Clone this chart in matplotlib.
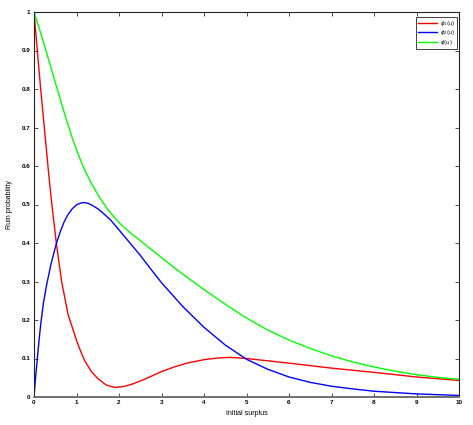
import matplotlib
matplotlib.use("Agg")
import matplotlib.pyplot as plt

# phi_1(u) (red)
u_red = [0, 0.078, 0.157, 0.243, 0.345, 0.42, 0.525, 0.65, 0.8, 1.0, 1.1, 1.19, 1.35,
         1.5, 1.7, 1.9, 2.1, 2.3, 2.6, 3.0, 3.3, 3.6, 4.0, 4.3, 4.6, 5.0, 5.5, 6, 7,
         8, 9, 10]
phi1 = [1.0, 0.9, 0.8, 0.7, 0.58, 0.5, 0.4, 0.3, 0.215, 0.147, 0.118, 0.095, 0.066,
        0.048, 0.031, 0.025, 0.027, 0.033, 0.046, 0.066, 0.078, 0.088, 0.097, 0.101,
        0.103, 0.100, 0.094, 0.088, 0.075, 0.064, 0.052, 0.043]

# phi_2(u) (blue)
u_blue = [0, 0.04, 0.078, 0.12, 0.157, 0.22, 0.3, 0.4, 0.525, 0.62, 0.71, 0.8, 0.9,
          1.0, 1.1, 1.18, 1.27, 1.35, 1.5, 1.6, 1.8, 2.0, 2.25, 2.5, 2.75, 3.0, 3.5,
          4.0, 4.5, 5.0, 5.5, 6, 6.5, 7, 7.5, 8, 9, 10]
phi2 = [0, 0.055, 0.1, 0.148, 0.188, 0.243, 0.293, 0.345, 0.398, 0.43, 0.455, 0.474,
        0.489, 0.499, 0.504, 0.505, 0.503, 0.499, 0.489, 0.48, 0.46, 0.434, 0.401,
        0.368, 0.332, 0.297, 0.235, 0.181, 0.135, 0.098, 0.072, 0.052, 0.038, 0.028,
        0.021, 0.015, 0.008, 0.004]

# phi(u) (green)
u_green = [0, 0.1, 0.2, 0.3, 0.4, 0.5, 0.6, 0.7, 0.8, 0.9, 1.0, 1.1, 1.2, 1.35, 1.55,
           1.75, 2.0, 2.25, 2.5, 3.0, 3.5, 4.0, 4.5, 5.0, 5.5, 6, 6.5, 7, 7.5, 8, 8.5,
           9, 9.5, 10]
phi = [1.0, 0.965, 0.93, 0.893, 0.855, 0.817, 0.78, 0.743, 0.707, 0.673, 0.642, 0.614,
       0.588, 0.555, 0.517, 0.485, 0.453, 0.428, 0.406, 0.362, 0.319, 0.279, 0.241,
       0.205, 0.174, 0.148, 0.126, 0.107, 0.091, 0.078, 0.067, 0.058, 0.051, 0.046]

x_ticks = list(range(0, 11))
y_ticks = [0, 0.1, 0.2, 0.3, 0.4, 0.5, 0.6, 0.7, 0.8, 0.9, 1]
y_tick_labels = ["0", "0.1", "0.2", "0.3", "0.4", "0.5", "0.6", "0.7", "0.8", "0.9", "1"]
labels = [r"$\phi_1(u)$", r"$\phi_2(u)$", r"$\phi(u)$"]

plt.rcParams['font.family'] = ['Liberation Sans', 'DejaVu Sans']

fig = plt.figure(figsize=(4.73, 4.25), dpi=100)
ax = fig.add_axes([34 / 473, 28 / 425, 425 / 473, 385 / 425])

ax.plot(u_red, phi1, color="#ff0000", lw=1.0, label=labels[0])
ax.plot(u_blue, phi2, color="#0000ff", lw=1.0, label=labels[1])
ax.plot(u_green, phi, color="#00ff00", lw=1.0, label=labels[2])

ax.set_xlim(0, 10)
ax.set_ylim(0, 1)
ax.set_xticks(x_ticks)
ax.set_xticklabels([str(t) for t in x_ticks])
ax.set_yticks(y_ticks)
ax.set_yticklabels(y_tick_labels)
ax.tick_params(direction="in", length=3, width=0.6, top=True, right=True,
               labelsize=4.5, pad=2.5, color="#333333")
for lab in ax.get_xticklabels() + ax.get_yticklabels():
    lab.set_fontweight("bold")

for s in ["top", "left", "right"]:
    ax.spines[s].set_color("#222222")
    ax.spines[s].set_linewidth(0.8)
ax.spines["bottom"].set_color("#707070")
ax.spines["bottom"].set_linewidth(1.4)

ax.set_xlabel("Initial surplus", fontsize=5, labelpad=3)
ax.set_ylabel("Ruin probability", fontsize=5, labelpad=6)

leg = ax.legend(loc="upper right", bbox_to_anchor=(0.995, 0.987), fontsize=4,
                handlelength=3.5, handletextpad=0.4, borderpad=0.3,
                labelspacing=0.12, fancybox=False, framealpha=1, borderaxespad=0)
leg.get_frame().set_edgecolor("#222222")
leg.get_frame().set_linewidth(0.6)

fig.savefig("out.png", dpi=100)
